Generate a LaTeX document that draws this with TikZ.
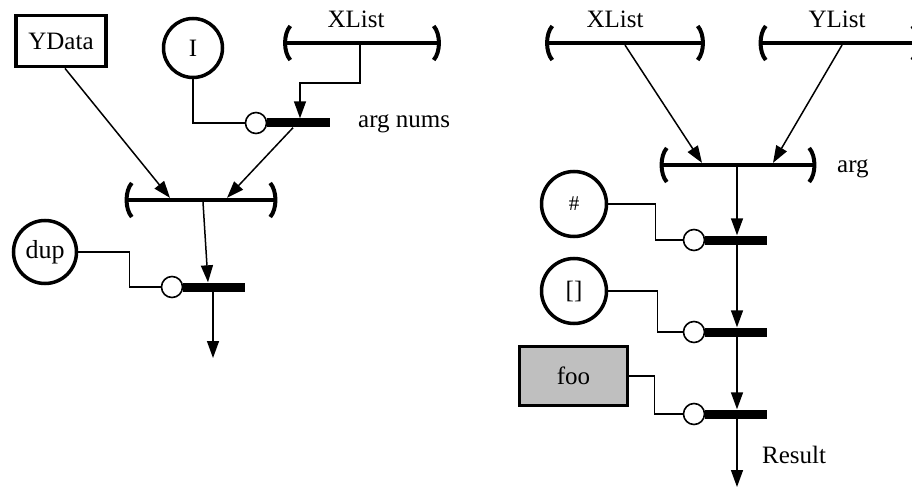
\documentclass[tikz,border=0pt]{standalone}
\usepackage{fontspec}
\setmainfont{Liberation Serif}
\usetikzlibrary{arrows.meta}

\tikzset{
  conn/.style={line width=1.5pt},
  arr/.style={conn,-{Triangle[length=17pt,width=12pt]}},
  txt/.style={font=\fontsize{25}{30}\selectfont},
  circ/.style={circle,draw,line width=3.5pt,inner sep=0pt,txt},
  box/.style={rectangle,draw,line width=3.8pt,inner sep=0pt,txt},
  gate/.style={rectangle,fill=black,inner sep=0pt,minimum width=62pt,minimum height=9pt},
  neg/.style={circle,draw,fill=white,line width=1.6pt,inner sep=0pt,minimum size=21pt},
  listbar/.style={rectangle,fill=black,inner sep=0pt,minimum height=3.8pt},
  brk/.style={line width=4pt},
  lbl/.style={txt,inner sep=0pt},
}

% draws the round brackets at both ends of a list bar
\newcommand\listbrackets[1]{%
  \draw[brk] ([shift={(6,-17)}]#1.west) .. controls ([shift={(-1,-9)}]#1.west) and ([shift={(-1,9)}]#1.west) .. ([shift={(6,17)}]#1.west);
  \draw[brk] ([shift={(-6,-17)}]#1.east) .. controls ([shift={(1,-9)}]#1.east) and ([shift={(1,9)}]#1.east) .. ([shift={(-6,17)}]#1.east);
}

\begin{document}
\begin{tikzpicture}[x=1pt,y=-1pt]
\useasboundingbox (0,0) rectangle (912,489);
\clip (0,0) rectangle (912,489);

% ---------------- left program ----------------
\node[box,minimum width=90pt,minimum height=51pt] (yd) at (61,41) {YData};
\node[circ,minimum size=59pt] (I) at (193,48) {I};
\node[listbar,minimum width=155pt] (xl1) at (362,43) {};
\listbrackets{xl1}
\node[lbl,anchor=base] (xl1t) at (356,28) {XList};

\node[gate,minimum width=63pt] (g1) at (298.5,123) {};
\node[neg] (n1) at (256,123) {};
\node[lbl,anchor=base west] (g1t) at (358,128) {arg nums};

\node[listbar,minimum width=150pt] (mb) at (201,200) {};
\listbrackets{mb}

\node[circ,minimum size=63pt,font=\fontsize{26}{30}\selectfont] (dup) at (45,252) {dup};
\node[gate] (g2) at (214,287) {};
\node[neg] (n2) at (172,287) {};
\coordinate (out1) at (213,358);

\draw[conn] (I.south) |- (n1.west);
\draw[arr] ([xshift=-2pt]xl1.center) -- ++(0,40) -| ([xshift=1.5pt]g1.north);
\draw[arr] ([xshift=4pt]yd.south) -- ([xshift=-31pt]mb.north);
\draw[arr] ([xshift=-5.5pt]g1.south) -- ([xshift=26pt]mb.north);
\draw[arr] ([xshift=2pt]mb.south) -- ([xshift=-6pt]g2.north);
\draw[conn] (dup.east) -- ++(51,0) |- (n2.west);
\draw[arr] (g2.south -| out1) -- (out1);

% ---------------- right program ----------------
\node[listbar,minimum width=157pt] (rx) at (625,43) {};
\listbrackets{rx}
\node[lbl,anchor=base] (rxt) at (615,28) {XList};
\node[listbar,minimum width=158pt] (ry) at (839,43) {};
\listbrackets{ry}
\node[lbl,anchor=base] (ryt) at (837,28) {YList};

\node[listbar,minimum width=154pt] (arg) at (738,165) {};
\listbrackets{arg}
\node[lbl,anchor=base west] (argt) at (837,173) {arg};

\node[circ,minimum size=65pt,font=\fontsize{21}{25}\selectfont] (hash) at (574,204) {\#};
\node[gate] (rg1) at (736,240) {};
\node[neg] (rn1) at (694,240) {};

\node[circ,minimum size=65pt] (br) at (574,291) {[]};
\node[gate] (rg2) at (736,332) {};
\node[neg] (rn2) at (694,332) {};

\node[box,fill=black!25,minimum width=108pt,minimum height=59pt] (foo) at (573.5,376) {foo};
\node[gate] (rg3) at (736,414) {};
\node[neg] (rn3) at (694,414) {};

\coordinate (res) at (737,487);
\node[lbl,anchor=base west] (rest) at (762,463) {Result};

\draw[arr] (rx.south) -- ([xshift=-36pt]arg.north);
\draw[arr] ([xshift=3pt]ry.south) -- ([xshift=35pt]arg.north);
\draw[arr] ([xshift=-1pt]arg.south) -- ([xshift=1pt]rg1.north);
\draw[arr] ([xshift=1pt]rg1.south) -- ([xshift=1pt]rg2.north);
\draw[arr] ([xshift=1pt]rg2.south) -- ([xshift=1pt]rg3.north);
\draw[arr] ([xshift=1pt]rg3.south) -- (res);

\draw[conn] (hash.east) -- ++(47,0) |- (rn1.west);
\draw[conn] (br.east) -- ++(49,0) |- (rn2.west);
\draw[conn] (foo.east) -- ++(25,0) |- (rn3.west);
\end{tikzpicture}
\end{document}
